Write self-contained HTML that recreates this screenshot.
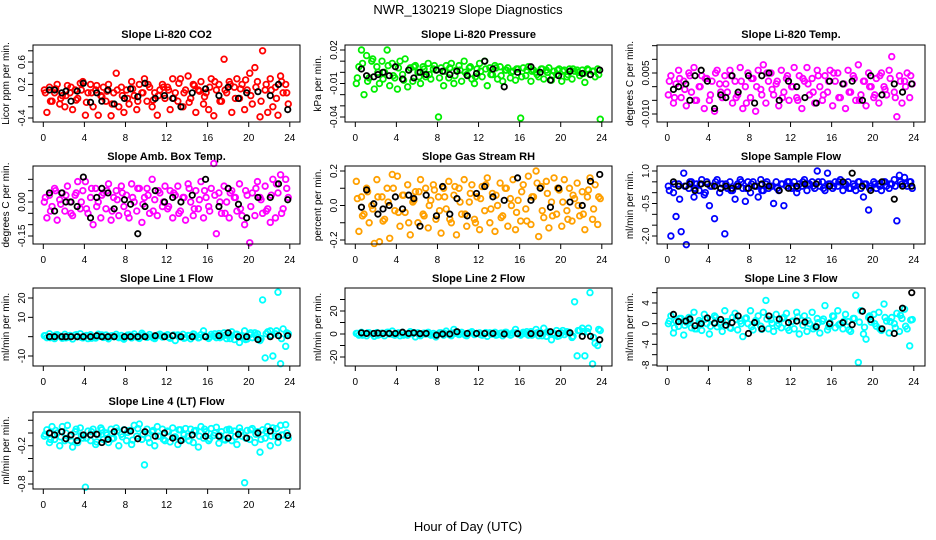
<!DOCTYPE html>
<html><head><meta charset="utf-8"><style>
body{margin:0;background:#fff;}
svg{display:block;font-family:"Liberation Sans",Arial,sans-serif;}
</style></head><body>
<svg id="chart" width="936" height="540" xmlns="http://www.w3.org/2000/svg">
<rect width="936" height="540" fill="#fff"/>
<text x="468" y="14" text-anchor="middle" font-size="13">NWR_130219  Slope Diagnostics</text>
<text x="468" y="531" text-anchor="middle" font-size="13">Hour of Day (UTC)</text>
</svg>
<script>
const hoursColor=[0.1,0.35,0.6,0.85,1.1,1.35,1.6,1.85,2.1,2.35,2.6,2.85,3.1,3.35,3.6,3.85,4.1,4.35,4.6,4.85,5.1,5.35,5.6,5.85,6.1,6.35,6.6,6.85,7.1,7.35,7.6,7.85,8.1,8.35,8.6,8.85,9.1,9.35,9.6,9.85,10.1,10.35,10.6,10.85,11.1,11.35,11.6,11.85,12.1,12.35,12.6,12.85,13.1,13.35,13.6,13.85,14.1,14.35,14.6,14.85,15.1,15.35,15.6,15.85,16.1,16.35,16.6,16.85,17.1,17.35,17.6,17.85,18.1,18.35,18.6,18.85,19.1,19.35,19.6,19.85,20.1,20.35,20.6,20.85,21.1,21.35,21.6,21.85,22.1,22.35,22.6,22.85,23.1,23.35,23.6,23.85];
const hoursColor2=[0.2,0.7,1.2,1.7,2.2,2.7,3.2,3.7,4.2,4.7,5.2,5.7,6.2,6.7,7.2,7.7,8.2,8.7,9.2,9.7,10.2,10.7,11.2,11.7,12.2,12.7,13.2,13.7,14.2,14.7,15.2,15.7,16.2,16.7,17.2,17.7,18.2,18.7,19.2,19.7,20.2,20.7,21.2,21.7,22.2,22.7,23.2,23.7];
const hoursBlack=[0.6,1.1,1.8,2.2,2.7,3.3,3.9,4.6,5.2,5.7,6.3,6.9,7.9,8.5,9.2,9.9,10.9,11.8,12.6,13.4,14.5,15.8,17.1,18.0,19.0,19.8,20.9,22.1,22.9,23.8];
const hourTicks=[0,4,8,12,16,20,24];

const co2=[0.1,-0.3,0.15,-0.1,0.05,0.2,-0.15,0.0,-0.2,0.18,0.05,-0.25,0.1,-0.05,0.22,0.25,-0.35,0.05,0.2,-0.2,0.1,-0.35,0.0,0.15,-0.1,0.2,-0.36,0.05,0.4,-0.2,0.15,-0.3,0.1,-0.15,0.25,0.0,-0.25,0.2,0.05,0.3,-0.1,0.15,-0.2,0.05,-0.35,0.1,0.2,-0.05,0.15,-0.25,0.3,0.05,-0.1,0.3,-0.2,0.1,0.35,-0.05,0.2,-0.3,0.1,0.25,-0.15,0.05,-0.25,0.3,-0.36,0.1,0.2,-0.1,0.65,0.05,0.25,-0.3,0.15,0.3,-0.05,0.2,-0.25,0.1,0.4,-0.15,0.5,0.25,-0.38,0.8,0.1,-0.3,0.3,-0.2,0.15,-0.35,0.35,0.05,0.2,-0.15];
const co2B=[0.05,-0.1,0.12,-0.05,0.0,0.15,-0.08,0.1,-0.12,0.05,0.18,-0.02,0.08,-0.15,0.1,0.0,-0.05,0.12,-0.1,0.05,0.2,-0.08,0.0,0.15,0.1,-0.05,0.22,0.05,-0.12,0.18,0.08,-0.02,0.15,0.25,-0.1,0.1,0.2,-0.05,0.12,0.28,0.0,0.15,-0.1,0.2,0.1,-0.05,0.25,0.05];
const co2Black=[0.1,0.1,0.05,0.08,-0.1,0.08,0.22,-0.12,0.05,-0.1,0.1,-0.15,-0.05,0.12,-0.02,0.22,-0.05,0.0,-0.05,-0.2,0.05,0.12,0.0,0.15,-0.05,0.05,0.07,0.0,0.2,-0.25];
const press=[-0.01,0.005,0.02,-0.02,0.015,-0.005,0.01,-0.015,0.005,-0.01,0.01,0.0,0.02,-0.012,0.008,-0.005,-0.015,0.01,-0.002,0.012,-0.013,0.004,-0.008,0.006,0.0,-0.01,0.005,-0.004,0.008,-0.006,0.003,0.002,-0.04,0.004,-0.012,0.006,-0.005,0.008,-0.01,0.002,0.006,-0.008,0.01,-0.002,0.004,-0.006,-0.01,0.003,0.008,-0.004,0.01,-0.012,0.004,-0.002,0.006,-0.006,0.005,-0.008,0.002,0.004,-0.005,0.001,-0.007,0.003,-0.041,0.004,-0.003,0.005,-0.008,0.002,0.0,-0.004,0.003,-0.006,0.002,0.004,-0.007,0.001,-0.002,0.003,-0.008,0.002,-0.004,0.003,-0.006,0.001,0.002,-0.003,0.002,-0.009,0.003,-0.002,0.001,-0.004,0.003,-0.042];
const pressB=[-0.005,0.008,-0.008,0.012,0.0,-0.006,0.006,-0.003,0.004,-0.007,0.002,0.005,-0.004,0.003,-0.002,0.006,-0.005,0.001,0.004,-0.003,0.002,0.0,0.005,-0.004,0.001,0.003,-0.002,0.004,-0.003,0.002,0.0,0.003,-0.004,0.002,0.001,-0.002,0.003,0.0,-0.003,0.002,0.001,-0.002,0.003,0.0,-0.001,0.002,0.001,-0.002];
const pressBlack=[0.003,-0.003,-0.004,-0.002,0.0,-0.003,0.005,-0.006,0.002,-0.005,0.0,-0.002,0.002,0.001,-0.002,0.001,-0.003,-0.001,0.01,0.003,-0.013,0.0,0.005,0.0,-0.007,-0.003,0.001,-0.001,-0.002,0.002];
const liTemp=[-0.003,0.004,-0.006,0.001,0.006,-0.004,0.002,-0.007,0.005,-0.002,0.007,-0.005,0.0,0.004,-0.008,0.003,-0.005,0.002,-0.009,0.006,0.001,-0.004,0.004,-0.002,0.006,-0.006,0.002,-0.003,0.007,-0.008,0.0,0.005,-0.004,0.003,-0.009,0.006,-0.001,0.008,-0.006,0.002,0.005,-0.003,0.001,-0.007,0.006,-0.002,0.003,-0.005,0.0,0.007,-0.004,0.004,-0.008,0.002,0.007,-0.003,0.003,-0.006,0.006,0.0,-0.005,0.004,-0.002,0.006,-0.007,0.002,0.005,-0.004,0.001,-0.008,0.006,-0.002,0.004,-0.005,0.008,-0.003,0.002,-0.007,0.005,0.0,-0.004,0.003,-0.006,0.005,0.0,-0.003,0.006,0.011,-0.002,-0.011,0.004,-0.006,0.002,0.005,-0.004,0.001];
const liTempB=[0.002,-0.004,0.003,-0.001,0.004,-0.005,0.0,0.003,-0.003,0.005,-0.002,0.001,0.004,-0.004,0.002,-0.006,0.003,0.0,-0.003,0.005,-0.001,0.002,-0.004,0.004,0.0,-0.005,0.003,0.001,-0.002,0.004,-0.003,0.002,0.005,-0.004,0.001,-0.002,0.003,-0.005,0.002,0.0,-0.003,0.004,-0.001,0.003,-0.004,0.002,0.0,0.004];
const liTempBlack=[-0.001,0.0,0.001,-0.005,0.004,0.006,0.002,-0.008,-0.003,-0.004,0.004,-0.002,0.004,-0.006,0.004,0.005,-0.005,0.002,0.0,-0.004,-0.006,0.002,0.001,0.002,-0.005,0.004,-0.003,0.001,-0.002,0.001];
const ambBox=[0.0,-0.07,0.03,-0.02,0.06,-0.08,0.01,0.04,-0.04,0.07,0.0,-0.06,0.03,0.09,-0.03,0.05,0.09,-0.05,0.02,-0.1,0.06,0.0,-0.07,0.04,-0.03,0.08,-0.08,0.02,0.05,-0.06,0.07,-0.02,0.03,-0.07,0.08,0.0,-0.04,0.06,-0.09,0.02,0.06,-0.05,0.1,0.01,-0.06,0.04,-0.02,0.07,-0.03,0.05,-0.07,0.03,0.07,-0.04,0.02,-0.08,0.08,0.0,-0.06,0.05,-0.03,0.09,-0.07,0.02,-0.02,0.06,0.17,-0.14,0.04,-0.05,0.07,0.0,-0.07,0.05,0.02,-0.04,0.08,-0.06,-0.1,0.03,-0.18,0.04,-0.06,0.09,0.02,-0.05,0.07,-0.03,-0.09,0.1,-0.07,0.04,0.12,-0.03,0.1,0.02];
const ambBoxB=[0.02,-0.04,0.05,-0.01,0.03,-0.05,0.04,0.0,-0.03,0.06,-0.02,0.03,0.05,-0.04,0.01,0.04,-0.05,0.02,0.06,-0.01,0.03,-0.04,0.05,0.0,-0.02,0.04,-0.05,0.02,0.06,-0.03,0.01,0.05,-0.04,0.03,0.0,-0.05,0.04,0.02,-0.03,0.05,-0.02,0.06,0.01,-0.04,0.03,0.08,-0.05,0.06];
const ambBoxBlack=[0.04,-0.04,0.04,0.0,0.0,-0.02,0.11,-0.07,0.02,0.06,0.04,-0.03,0.01,-0.01,-0.14,-0.02,0.05,0.0,0.02,0.0,0.03,0.1,-0.02,0.06,-0.01,-0.07,0.02,0.02,0.08,0.01];
const gasRH=[0.14,-0.15,0.05,-0.05,0.1,-0.1,0.0,-0.22,0.15,-0.21,0.05,-0.08,0.1,-0.19,0.18,-0.03,0.17,-0.12,0.06,-0.04,0.12,-0.17,0.02,0.08,-0.1,0.15,-0.05,0.1,-0.13,0.03,0.12,-0.08,0.05,-0.16,0.1,-0.02,0.14,-0.1,0.06,-0.17,0.1,-0.05,0.15,-0.12,0.02,0.12,-0.08,0.05,-0.14,0.11,-0.03,0.16,-0.1,0.07,-0.15,0.0,0.13,-0.06,0.1,-0.12,0.04,0.15,-0.14,0.03,-0.09,0.12,-0.02,0.17,-0.11,0.05,0.2,-0.18,0.11,-0.07,0.14,-0.13,0.02,0.16,-0.05,0.09,-0.12,0.15,-0.03,0.1,-0.09,0.04,0.13,-0.06,0.08,-0.14,0.05,0.16,-0.08,0.12,-0.11,0.04];
const gasRHB=[0.04,-0.06,0.08,-0.02,0.05,-0.09,0.02,0.1,-0.04,0.06,-0.1,0.03,0.08,-0.06,0.0,0.09,-0.03,0.05,-0.08,0.11,0.02,-0.05,0.07,-0.1,0.04,0.12,-0.02,0.06,-0.07,0.1,0.0,-0.04,0.08,-0.09,0.05,0.13,-0.03,0.07,-0.06,0.1,0.02,-0.08,0.06,0.0,-0.05,0.09,-0.02,0.05];
const gasRHBlack=[-0.01,0.09,0.01,-0.05,-0.02,0.0,0.05,-0.02,0.06,0.04,-0.12,0.06,-0.06,0.11,-0.05,0.04,-0.06,0.07,0.11,0.05,0.03,0.16,0.03,0.1,-0.01,0.1,0.02,0.0,0.14,0.18];
const sampleFlow=[0.3,-2.0,0.0,-1.1,0.4,-1.8,0.9,-2.4,0.2,0.5,-0.2,0.4,0.1,0.6,-0.1,0.5,-0.6,0.3,-1.2,0.6,0.0,0.4,-1.9,0.2,0.5,0.1,-0.3,0.4,0.6,0.2,-0.4,0.5,0.0,0.5,0.3,-0.2,0.6,0.1,0.4,0.2,0.3,-0.5,0.5,0.1,0.4,-0.6,0.3,0.5,0.2,0.5,0.0,0.4,0.3,0.6,0.1,0.4,0.5,0.2,1.0,0.3,0.5,0.1,0.9,0.4,0.2,0.5,0.3,0.6,0.1,0.4,0.5,0.2,0.4,0.1,0.5,0.2,-0.2,0.4,-0.8,0.3,0.5,0.2,0.4,0.1,0.5,0.3,0.2,0.4,0.6,-1.3,0.8,0.4,0.7,0.3,0.5,0.2];
const sampleFlowB=[0.1,0.4,-0.3,0.3,0.5,0.2,0.4,0.0,0.3,0.5,0.2,0.4,0.1,0.3,0.5,0.2,0.4,0.3,0.1,0.5,0.3,0.2,0.4,0.5,0.3,0.2,0.5,0.4,0.3,0.5,0.2,0.4,0.3,0.5,0.4,0.2,0.3,0.5,0.4,0.2,0.4,0.3,0.5,0.4,0.3,0.5,0.4,0.5];
const sampleFlowBlack=[0.5,0.3,0.3,0.4,0.1,0.4,0.4,0.3,0.2,0.3,0.2,0.3,0.2,0.3,0.4,0.3,0.1,0.2,0.3,0.4,0.4,0.3,0.5,0.9,0.3,0.1,0.5,-0.3,0.3,0.3];
const line1=[0.5,-0.5,1.5,0.0,-1.0,1.0,0.3,-0.8,1.2,-0.3,0.6,-1.2,0.8,0.0,1.5,-0.6,0.3,-1.0,1.0,0.0,-0.7,1.3,0.2,-0.4,0.9,-1.1,0.4,0.0,1.2,-0.5,0.6,-1.3,0.2,0.9,-0.6,1.4,0.0,-0.9,1.8,0.3,-0.4,1.1,0.0,-1.0,0.7,1.3,-0.2,0.5,1.0,-0.8,0.4,-2.0,0.9,0.0,1.2,-0.5,0.6,-1.1,1.4,0.2,-0.6,1.0,3.0,0.0,-0.9,1.2,0.3,-0.5,1.6,0.0,2.0,-1.0,0.8,2.5,-1.5,1.3,-3.0,0.5,3.0,-1.2,1.0,-0.5,2.0,1.5,-2.0,19,-11,2.5,3.0,-10,1.5,23,-14,4.0,-5,1.5];
const line1B=[0.5,-0.5,0.8,0,-0.6,0.4,1,-0.3,0.6,-0.8,0.2,0.9,-0.4,0.5,0,-0.7,0.8,0.3,-0.5,1,0,-0.6,0.7,0.2,-0.3,0.9,0,-0.8,0.5,1.2,-0.4,0.6,0,1.5,-0.5,0.8,-1,1.2,0.3,-1.5,2,0.5,-1,1.5,0.8,3,-1,2];
const line1Black=[0,0,0,0,0,0,0,0,0.5,0,0,0,0,0,0,0,0.5,0,0.5,0,0,0,0.5,2,0,0,-1.5,0,0.5,0.5];
const line2=[0.5,-1,1.5,0,-1.5,1,0.3,-2,1.2,-0.5,0.8,-1.5,1.5,0,2.5,-1,0.5,-1.5,1.5,0,-1,2,0.2,-2.5,1,-1.5,0.5,0,1.5,-1,0.5,-2.5,0.2,1,-1,2.5,0,-1.5,4,0.5,-0.5,1.5,0,-1.5,1,2,-0.5,0.5,1,-1,0.5,-2,1,0,1.5,-0.5,0.5,-1.5,1.5,0.2,-1,1,4,0,-1,1.5,0.3,-1,2,0,4,-1.5,1,5,-2,1.5,-5,0.5,3,-1.5,1,-0.5,2,1.5,-3,28,-19,3,5,-19,2,36,-26,-8,-10,3];
const line2B=[0.5,-1,1,0,-1,0.5,1.5,-0.5,1,-1,0.3,1.2,-0.5,0.8,0,-1,1,0.5,-0.8,1.5,0,-1,1,0.3,-0.5,1.2,0,-1,0.8,1.5,-0.5,1,0,2,-1,1,-1.5,2,0.5,-2,3,1,-2,3,2,5,-3,4];
const line2Black=[1,0.5,0.5,0.8,0.5,0.5,0.5,1.5,0.5,1,0.3,0.5,-1,0,0,2,0.5,0.5,0.5,0.5,0,0.3,0.3,0.5,2,0.5,1,-2,-2,-5];
const line3=[0,1.5,-1.8,0.5,-0.5,1.0,-2.2,0.3,1.2,-0.8,2.2,-1.0,0.6,-1.3,1.8,0,-2,0.8,1.5,-0.6,0.2,-1.5,2.5,0.4,-0.8,1.2,2.0,-1.2,0.5,-2.5,1.0,0,2.5,-1.2,0.6,1.5,-0.5,2.2,4.5,-1.0,0.8,-1.5,1.8,0,-0.8,1.2,2.0,-1.3,0.4,-1,2.2,-2,0.6,1.5,-1.5,0,2.2,-0.6,1,-1.8,0.5,3.5,-1.2,0.2,1.5,-0.8,2.5,0,-1,1.8,0.4,-1.5,1,5.5,-7.5,2.5,-2,-3,1.2,0.3,1.8,-0.5,2.2,-1.3,3.8,0.5,-1.8,1.2,0,2,-1.5,1.0,2.8,-1.0,-4.3,0.8];
const line3B=[0.5,-0.8,1,-0.3,0.6,-1,0.2,0.9,-0.5,1.2,-0.2,0.4,-0.9,0.8,0,1.1,-0.6,0.3,-1.1,0.9,0.1,-0.4,1,-0.8,0.5,1.3,-0.3,0.6,-1,0.2,0.9,-0.6,1.4,-0.2,0.5,-1.2,1,0.3,-0.7,1.5,0,-1,1.2,0.4,-0.8,1.6,-0.5,0.7];
const line3Black=[1.8,0.4,0.5,0.9,-0.4,0,1.1,0.1,0.8,-0.3,0.2,1.5,-1.9,0.2,-1.0,1.5,0.9,0.2,0.5,0.3,-0.6,0,0.2,-0.2,2.4,0.8,-1.0,-1.9,3,6];
const line4=[-0.05,0.05,-0.15,0.1,-0.1,0.0,-0.2,0.1,-0.12,0.12,-0.05,-0.22,0.02,-0.15,0.08,-0.08,-0.85,0.03,-0.12,0.06,-0.18,-0.02,0.08,-0.1,0.0,-0.15,0.06,-0.08,0.08,-0.2,-0.02,0.05,-0.12,0.04,-0.18,0.12,-0.05,0.14,-0.1,-0.5,0.06,-0.15,0.02,-0.2,0.1,-0.05,0.06,-0.12,0.03,-0.14,0.08,-0.06,-0.18,0.05,-0.1,0.07,-0.05,0.06,-0.15,0.04,-0.22,0.1,-0.08,0.02,-0.12,0.07,-0.04,0.09,-0.16,0.02,-0.1,0.05,0.06,-0.12,0.03,-0.18,0.08,-0.05,-0.78,0.04,-0.1,0.07,-0.15,0.02,-0.3,0.05,-0.08,0.1,-0.2,0.08,-0.05,-0.15,0.12,-0.03,0.13,-0.08];
const line4B=[-0.02,-0.1,0.04,-0.06,0.0,-0.12,0.06,-0.04,-0.08,0.02,-0.14,0.05,-0.03,-0.09,0.03,-0.06,0.01,-0.11,0.07,-0.02,-0.08,0.04,-0.05,-0.1,0.02,-0.07,0.05,-0.03,-0.12,0.03,-0.05,0.06,-0.09,0.0,-0.04,-0.11,0.04,-0.06,0.02,-0.08,0.05,-0.02,-0.1,0.03,-0.05,0.07,-0.03,0.0];
const line4Black=[0.0,-0.03,0.02,-0.09,-0.03,-0.12,-0.03,-0.03,-0.02,-0.15,-0.1,0.02,0.05,0.03,-0.09,0.02,-0.05,0.0,-0.08,-0.12,-0.03,-0.05,-0.05,-0.08,-0.02,-0.08,0.0,0.03,-0.06,-0.04];

const co2Ticks=[-0.4,-0.2,0,0.2,0.4,0.6,0.8], co2Labels=[-0.4,0.2,0.6];
const pressTicks=[-0.04,-0.03,-0.02,-0.01,0,0.01,0.02], pressLabels=[-0.04,-0.01,0.02];
const liTempTicks=[-0.01,-0.005,0,0.005,0.01,0.015], liTempLabels=[-0.01,0.005];
const ambTicks=[-0.15,-0.1,-0.05,0,0.05,0.1], ambLabels=[-0.15,0];
const rhTicks=[-0.2,-0.1,0,0.1,0.2], rhLabels=[-0.2,0,0.2];
const flowTicks=[-2,-1.5,-1,-0.5,0,0.5,1], flowLabels=[-2,-0.5,1];
const l1Ticks=[-10,0,10,20], l1Labels=[-10,10,20];
const l2Ticks=[-30,-20,-10,0,10,20,30], l2Labels=[-20,0,20];
const l3Ticks=[-8,-6,-4,-2,0,2,4,6], l3Labels=[-8,-4,0,4];
const l4Ticks=[-0.8,-0.6,-0.4,-0.2,0,0.2], l4Labels=[-0.8,-0.2];

const NS='http://www.w3.org/2000/svg';
const svg=document.getElementById('chart');
const cols=[{l:33,r:300,x0:43.3},{l:345,r:612,x0:355.3},{l:657,r:925,x0:667.3}];
const rows=[{t:45,b:122,ty:38},{t:166,b:244,ty:160},{t:288,b:366,ty:282},{t:412,b:489,ty:405}];
function mk(tag,attrs,parent){const e=document.createElementNS(NS,tag);for(const k in attrs)e.setAttribute(k,attrs[k]);(parent||svg).appendChild(e);return e;}
function fmt(v,d){return v.toFixed(d);}

function panel(ci,ri,name,title,ylab,vals,vals2,blk,color,v1,p1,v2,p2,ticks,labels,dec){
  const c=cols[ci],r=rows[ri];
  const g=mk('g',{});
  
  
  const xs=h=>c.x0+h*(246.5/24);
  const ys=v=>p1+(v-v1)*(p2-p1)/(v2-v1);
  const t=mk('text',{x:(c.l+c.r)/2,y:r.ty,'text-anchor':'middle','font-size':'11','font-weight':'bold'},g);
  
  
  t.textContent=title;
  const yl=mk('text',{transform:`translate(${c.l-24},${(r.t+r.b)/2}) rotate(-90)`,'text-anchor':'middle','font-size':'10'},g);
  
  
  yl.textContent=ylab;
  const pts=mk('g',{},g);
  
  
  vals.forEach((v,i)=>{const e=mk('circle',{cx:xs(hoursColor[i]),cy:ys(v),r:2.8,fill:'none',stroke:color,'stroke-width':1.8},pts);
    
    });
  vals2.forEach((v,i)=>{const e=mk('circle',{cx:xs(hoursColor2[i]),cy:ys(v),r:2.8,fill:'none',stroke:color,'stroke-width':1.8},pts);
    
    });
  const bp=mk('g',{},g);
  
  
  blk.forEach((v,i)=>{const e=mk('circle',{cx:xs(hoursBlack[i]),cy:ys(v),r:2.7,fill:'none',stroke:'#000','stroke-width':1.8},bp);
    
    });
  const box=mk('rect',{x:c.l,y:r.t,width:c.r-c.l,height:r.b-r.t,fill:'none',stroke:'#000','stroke-width':1},g);
  
  
  const xa=mk('g',{},g);
  
  
  hourTicks.forEach(h=>{mk('line',{x1:xs(h),x2:xs(h),y1:r.b,y2:r.b+5,stroke:'#000'},xa);
    const l=mk('text',{x:xs(h),y:r.b+19,'text-anchor':'middle','font-size':'10'},xa);
    
    
    l.textContent=h;});
  const ya=mk('g',{},g);
  
  
  ticks.forEach(v=>{const y=ys(v);if(y<r.t-1||y>r.b+1)return;mk('line',{x1:c.l-5,x2:c.l,y1:y,y2:y,stroke:'#000'},ya);});
  labels.forEach(v=>{const y=ys(v);
    const l=mk('text',{transform:`translate(${c.l-8},${y}) rotate(-90)`,'text-anchor':'middle','font-size':'10'},ya);
    
    
    l.textContent=fmt(v,dec);});
}
panel(0,0,'co2','Slope Li-820 CO2','Licor ppm per min.',co2,co2B,co2Black,'#ff0000',-0.4,118,0.6,62,co2Ticks,co2Labels,1);
panel(1,0,'pressure','Slope Li-820 Pressure','kPa per min.',press,pressB,pressBlack,'#00ee00',0.02,50,-0.04,117,pressTicks,pressLabels,2);
panel(2,0,'li-temp','Slope Li-820 Temp.','degrees C per min.',liTemp,liTempB,liTempBlack,'#ff00ff',0.005,73,-0.01,114,liTempTicks,liTempLabels,3);
panel(0,1,'amb-box-temp','Slope Amb. Box Temp.','degrees C per min.',ambBox,ambBoxB,ambBoxBlack,'#ff00ff',0,202,-0.15,236,ambTicks,ambLabels,2);
panel(1,1,'gas-stream-rh','Slope Gas Stream RH','percent per min.',gasRH,gasRHB,gasRHBlack,'#ffa000',0.2,171,-0.2,240,rhTicks,rhLabels,1);
panel(2,1,'sample-flow','Slope Sample Flow','ml/min per min.',sampleFlow,sampleFlowB,sampleFlowBlack,'#0000ff',1,171,-2,236,flowTicks,flowLabels,1);
panel(0,2,'line1-flow','Slope Line 1 Flow','ml/min per min.',line1,line1B,line1Black,'#00ffff',20,298,-10,356,l1Ticks,l1Labels,0);
panel(1,2,'line2-flow','Slope Line 2 Flow','ml/min per min.',line2,line2B,line2Black,'#00ffff',20,311,-20,357,l2Ticks,l2Labels,0);
panel(2,2,'line3-flow','Slope Line 3 Flow','ml/min per min.',line3,line3B,line3Black,'#00ffff',4,303,-8,365,l3Ticks,l3Labels,0);
panel(0,3,'line4-flow','Slope Line 4 (LT) Flow','ml/min per min.',line4,line4B,line4Black,'#00ffff',0,433,-0.8,484,l4Ticks,l4Labels,1);
</script>
</body></html>
